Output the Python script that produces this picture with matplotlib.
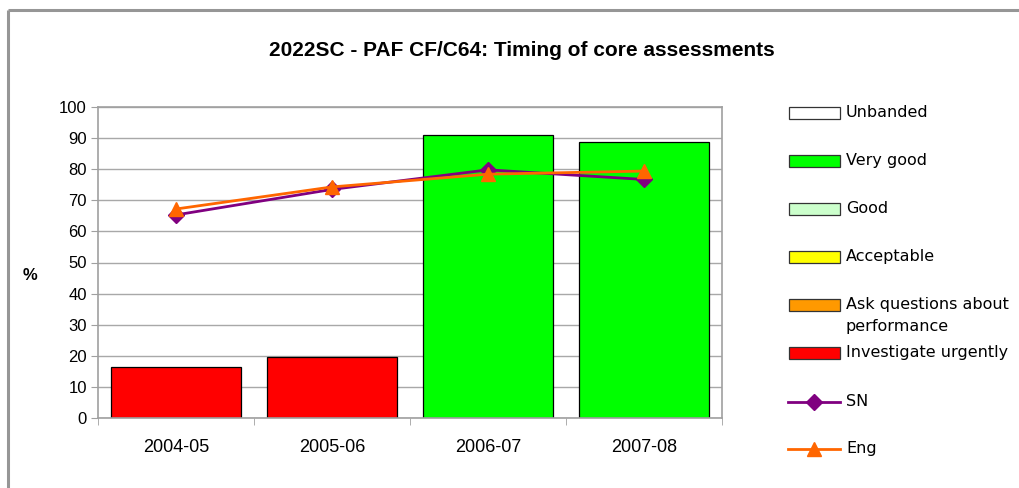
import matplotlib.pyplot as plt
import matplotlib.patches as mpatches
import numpy as np

years = ["2004-05", "2005-06", "2006-07", "2007-08"]
bar_values = [16.5, 19.6, 91.0, 88.9]
bar_colors = ["#ff0000", "#ff0000", "#00ff00", "#00ff00"]
sn_values = [65.3, 73.5, 79.8, 76.7]
eng_values = [67.2, 74.3, 78.4, 79.4]

band_labels = ["Unbanded", "Very good", "Good", "Acceptable",
               "Ask questions about\nperformance", "Investigate urgently"]
band_colors = ["#ffffff", "#00ff00", "#ccffcc", "#ffff00", "#ff9900", "#ff0000"]

fig = plt.figure(figsize=(10.2, 4.88), dpi=100)

# outer chart frame (only top and left edges visible)
frame = fig.add_axes([0, 0, 1, 1], zorder=-1)
frame.set_xlim(0, 1020)
frame.set_ylim(488, 0)
frame.axis("off")
frame.plot([8.5, 1020], [9.5, 9.5], color="#969696", lw=2.2, solid_capstyle="butt")
frame.plot([8.5, 8.5], [9.5, 488], color="#969696", lw=2.2, solid_capstyle="butt")

ax = fig.add_axes([98 / 1020, 70 / 488, 624 / 1020, 311 / 488])
x = np.arange(len(years))
ax.bar(x, bar_values, width=0.83, color=bar_colors, edgecolor="black", linewidth=0.9, zorder=2)
ax.plot(x, sn_values, color="#800080", lw=2, marker="D", ms=8, zorder=3)
ax.plot(x, eng_values, color="#ff6600", lw=2, marker="^", ms=10, zorder=4)

ax.set_xlim(-0.5, len(years) - 0.5)
ax.set_ylim(0, 100)
ax.set_yticks(range(0, 101, 10))
ax.set_xticks(x)
ax.set_xticklabels(years)
ax.set_xticks(np.arange(-0.5, len(years), 1.0), minor=True)
ax.tick_params(axis="x", which="major", length=0, pad=15)
ax.tick_params(axis="x", which="minor", length=5, color="#a0a0a0")
ax.tick_params(axis="y", length=5, color="#a0a0a0", pad=3)
for lab in ax.get_xticklabels():
    lab.set_family("Liberation Sans")
    lab.set_fontsize(13)
for lab in ax.get_yticklabels():
    lab.set_family("Liberation Sans")
    lab.set_fontsize(12)
ax.yaxis.grid(True, color="#a8a8a8", lw=1)
ax.set_axisbelow(True)
for s in ax.spines.values():
    s.set_color("#a0a0a0")
    s.set_linewidth(1.2)

fig.text(30 / 1020, 1 - 275 / 488, "%", fontsize=12, fontweight="bold",
         family="Liberation Sans", ha="center", va="center")
fig.text(522 / 1020, 1 - 50 / 488, "2022SC - PAF CF/C64: Timing of core assessments",
         fontsize=15, fontweight="bold", family="Liberation Sans",
         ha="center", va="center")

# legend drawn by hand to follow the spreadsheet layout
lg = fig.add_axes([0, 0, 1, 1], zorder=5)
lg.set_xlim(0, 1020)
lg.set_ylim(488, 0)
lg.axis("off")
rows = [113, 161, 209, 257, 305, 353]
for yy, lab, col in zip(rows, band_labels, band_colors):
    lg.add_patch(mpatches.Rectangle((789, yy - 6), 51, 12, facecolor=col,
                                    edgecolor="#333333", lw=0.9))
    lg.text(846, yy - 8, lab, fontsize=11.5, family="DejaVu Sans", va="top",
            ha="left", linespacing=1.6)
line_rows = [(402, "SN", "#800080", "D", 8), (449, "Eng", "#ff6600", "^", 10)]
for yy, lab, col, mk, ms in line_rows:
    lg.plot([788, 840], [yy, yy], color=col, lw=2)
    lg.plot([814], [yy], color=col, marker=mk, ms=ms, ls="none")
    lg.text(846, yy, lab, fontsize=11.5, family="DejaVu Sans", va="center", ha="left")

fig.savefig("out.png", dpi=100)
